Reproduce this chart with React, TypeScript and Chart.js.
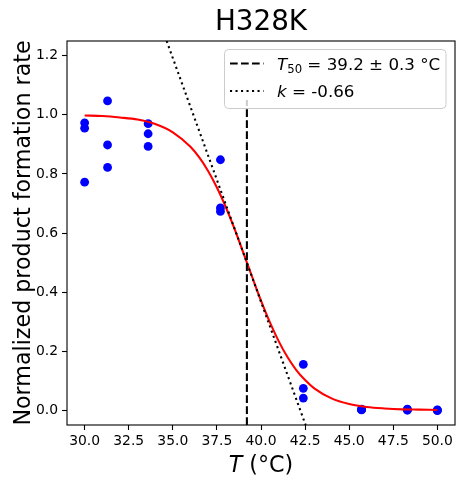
import { useEffect, useRef } from "react";
import { Chart, registerables } from "chart.js";

Chart.register(...registerables);

// measured points (temperature, normalized rate)
const TEMPS = [30, 30, 30, 31.3, 31.3, 31.3, 33.6, 33.6, 33.6, 37.7, 37.7, 37.7, 42.4, 42.4, 42.4, 45.7, 45.7, 45.7, 48.3, 48.3, 48.3, 50, 50, 50];
const RATES = [0.973, 0.955, 0.772, 1.047, 0.898, 0.822, 0.97, 0.936, 0.893, 0.848, 0.685, 0.673, 0.155, 0.074, 0.041, 0.004, 0.002, 0.001, 0.004, 0.002, 0.0, 0.001, 0.0, -0.001];

// fitted curve
const FIT_T = [30, 31, 32, 33, 34, 35, 36, 36.5, 37, 37.5, 38, 38.5, 39, 39.5, 40, 40.5, 41, 41.5, 42, 42.5, 43, 44, 45, 46, 47, 48, 49, 50];
const FIT_Y = [0.998, 0.996, 0.991, 0.984, 0.969, 0.941, 0.892, 0.856, 0.81, 0.754, 0.688, 0.614, 0.533, 0.451, 0.371, 0.298, 0.234, 0.18, 0.136, 0.102, 0.075, 0.04, 0.021, 0.011, 0.006, 0.003, 0.002, 0.001];

// T50 marker and tangent at the midpoint
const T50 = 39.2;
const T50_Y = [-0.05, 1.05];
const TANGENT_T = [34.65, 42.53];
const TANGENT_Y = [1.25, -0.05];

const X_TICKS = [30, 32.5, 35, 37.5, 40, 42.5, 45, 47.5, 50];
const Y_TICKS = [0, 0.2, 0.4, 0.6, 0.8, 1.0, 1.2];

const FONT = "'DejaVu Sans', sans-serif";

const overlay = {
  id: "overlay",
  afterDraw(chart: Chart) {
    const { ctx, chartArea: a } = chart;
    ctx.save();
    // spines
    ctx.strokeStyle = "#000";
    ctx.lineWidth = 1.1;
    ctx.strokeRect(a.left, a.top, a.right - a.left, a.bottom - a.top);

    // title
    ctx.fillStyle = "#000";
    ctx.textBaseline = "alphabetic";
    ctx.textAlign = "center";
    ctx.font = `27.8px ${FONT}`;
    ctx.fillText("H328K", (a.left + a.right) / 2, 29.5);

    // x label
    ctx.textAlign = "left";
    ctx.font = `italic 22.2px ${FONT}`;
    const wT = ctx.measureText("T").width;
    ctx.font = `22.2px ${FONT}`;
    const wRest = ctx.measureText(" (°C)").width;
    let x = (a.left + a.right) / 2 - (wT + wRest) / 2;
    ctx.font = `italic 22.2px ${FONT}`;
    ctx.fillText("T", x, 471.5);
    ctx.font = `22.2px ${FONT}`;
    ctx.fillText(" (°C)", x + wT, 471.5);

    // y label
    ctx.save();
    ctx.translate(29.5, (a.top + a.bottom) / 2);
    ctx.rotate(-Math.PI / 2);
    ctx.textAlign = "center";
    ctx.font = `22.2px ${FONT}`;
    ctx.fillText("Normalized product formation rate", 0, 0);
    ctx.restore();

    // legend
    const lx = 224.5, ly = 49.5, lw = 221.5, lh = 59;
    ctx.beginPath();
    ctx.roundRect(lx, ly, lw, lh, 4);
    ctx.fillStyle = "rgba(255,255,255,0.8)";
    ctx.fill();
    ctx.strokeStyle = "rgb(204,204,204)";
    ctx.lineWidth = 1;
    ctx.stroke();

    ctx.strokeStyle = "#000";
    ctx.lineWidth = 2.08;
    ctx.setLineDash([7.7, 3.3]);
    ctx.beginPath();
    ctx.moveTo(230, 63.5);
    ctx.lineTo(263.5, 63.5);
    ctx.stroke();
    ctx.setLineDash([2.1, 3.4]);
    ctx.beginPath();
    ctx.moveTo(230, 91);
    ctx.lineTo(263.5, 91);
    ctx.stroke();
    ctx.setLineDash([]);

    ctx.fillStyle = "#000";
    ctx.textAlign = "left";
    x = 277;
    ctx.font = `italic 16.7px ${FONT}`;
    ctx.fillText("T", x, 70);
    x += ctx.measureText("T").width;
    ctx.font = `11.7px ${FONT}`;
    ctx.fillText("50", x, 73);
    x += ctx.measureText("50").width;
    ctx.font = `16.7px ${FONT}`;
    ctx.fillText(" = 39.2 ± 0.3 °C", x, 70);

    x = 277;
    ctx.font = `italic 16.7px ${FONT}`;
    ctx.fillText("k", x, 97);
    x += ctx.measureText("k").width;
    ctx.font = `16.7px ${FONT}`;
    ctx.fillText(" = -0.66", x, 97);

    ctx.restore();
  },
};

export default function App() {
  const canvasRef = useRef<HTMLCanvasElement>(null);
  const chartRef = useRef<Chart | null>(null);

  useEffect(() => {
    document.body.style.margin = "0";
    const canvas = canvasRef.current;
    if (!canvas) return;
    if (chartRef.current) chartRef.current.destroy();

    const toXY = (xs: number[], ys: number[]) => xs.map((v, i) => ({ x: v, y: ys[i] }));

    chartRef.current = new Chart(canvas, {
      type: "scatter",
      data: {
        datasets: [
          {
            label: "tangent",
            data: toXY(TANGENT_T, TANGENT_Y),
            showLine: true,
            borderColor: "#000",
            borderWidth: 2.08,
            borderDash: [2.1, 3.4],
            pointRadius: 0,
            order: 1,
          },
          {
            label: "T50",
            data: toXY([T50, T50], T50_Y),
            showLine: true,
            borderColor: "#000",
            borderWidth: 2.08,
            borderDash: [7.7, 3.3],
            pointRadius: 0,
            order: 2,
          },
          {
            label: "fit",
            data: toXY(FIT_T, FIT_Y),
            showLine: true,
            borderColor: "#ff0000",
            borderWidth: 2.08,
            cubicInterpolationMode: "monotone",
            pointRadius: 0,
            order: 3,
          },
          {
            label: "data",
            data: toXY(TEMPS, RATES),
            backgroundColor: "#0000ff",
            borderColor: "#0000ff",
            borderWidth: 0,
            pointRadius: 4.4,
            order: 4,
          },
        ],
      },
      options: {
        responsive: false,
        animation: false,
        layout: { padding: { left: 0, right: 9, top: 41, bottom: 0 } },
        plugins: { legend: { display: false }, tooltip: { enabled: false } },
        scales: {
          x: {
            type: "linear",
            min: 29,
            max: 51,
            afterBuildTicks: (s) => {
              s.ticks = X_TICKS.map((value) => ({ value }));
            },
            afterFit: (s) => {
              s.height = 62;
            },
            grid: { drawOnChartArea: false, drawTicks: true, tickLength: 5, tickColor: "#000", tickWidth: 1.1 },
            border: { display: false },
            ticks: {
              color: "#000",
              padding: 3,
              maxRotation: 0,
              autoSkip: false,
              font: { family: FONT, size: 13.9 },
              callback: (v) => Number(v).toFixed(1),
            },
          },
          y: {
            type: "linear",
            min: -0.05,
            max: 1.25,
            afterBuildTicks: (s) => {
              s.ticks = Y_TICKS.map((value) => ({ value }));
            },
            afterFit: (s) => {
              s.width = 67;
            },
            grid: { drawOnChartArea: false, drawTicks: true, tickLength: 5, tickColor: "#000", tickWidth: 1.1 },
            border: { display: false },
            ticks: {
              color: "#000",
              padding: 4,
              autoSkip: false,
              font: { family: FONT, size: 13.9 },
              callback: (v) => Number(v).toFixed(1),
            },
          },
        },
      },
      plugins: [overlay],
    });

    return () => {
      if (chartRef.current) {
        chartRef.current.destroy();
        chartRef.current = null;
      }
    };
  }, []);

  return <canvas ref={canvasRef} width={464} height={487} style={{ display: "block", width: 464, height: 487 }} />;
}
